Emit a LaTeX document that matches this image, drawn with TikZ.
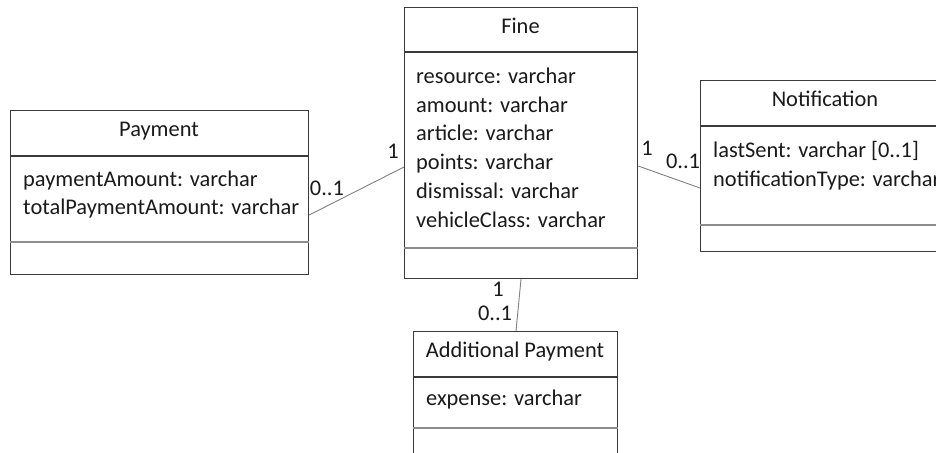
\documentclass[tikz,border=0pt]{standalone}
\usepackage{fontspec}
\setmainfont{Carlito}
\usetikzlibrary{calc}
\definecolor{boxline}{HTML}{3A3A3A}
\definecolor{sepline}{HTML}{8C8C8C}
\definecolor{connline}{HTML}{808080}
\definecolor{txt}{HTML}{1A1A1A}
\begin{document}
\begin{tikzpicture}[x=1pt,y=-1pt,
  classbox/.style={draw=boxline, line width=1.2pt, fill=white, anchor=north west, inner sep=0pt},
  headline/.style={draw=boxline, line width=1.2pt},
  sepl/.style={draw=sepline, line width=1.2pt},
  conn/.style={draw=connline, line width=0.9pt},
  title/.style={font=\fontsize{22.4}{28.7}\selectfont, text=txt, inner sep=0pt, text height=0.63em, text depth=0pt, anchor=center},
  attr/.style={font=\fontsize{22.4}{28.7}\selectfont, text=txt, inner sep=0pt, anchor=base west},
  mult/.style={font=\fontsize{22.4}{28.7}\selectfont, text=txt, inner sep=0pt, text height=0.63em, text depth=0pt, anchor=center}
]
\useasboundingbox (0,0) rectangle (936,452);
\clip (0,0) rectangle (936,452);
\fill[white] (0,0) rectangle (936,452);

% Payment
\node[classbox, minimum width=298pt, minimum height=164pt] (pay) at (10,110) {};
\draw[headline] ([yshift=-46pt]pay.north west) -- ([yshift=-46pt]pay.north east);
\draw[sepl] ([yshift=-132pt]pay.north west) -- ([yshift=-132pt]pay.north east);
\node[title] (payt) at (159,133) {Payment};
\node[attr] (paya1) at (23,186) {paymentAmount: varchar};
\node[attr] (paya2) at (23,214) {totalPaymentAmount: varchar};

% Fine
\node[classbox, minimum width=233pt, minimum height=271pt] (fine) at (404,7) {};
\draw[headline] ([yshift=-45pt]fine.north west) -- ([yshift=-45pt]fine.north east);
\draw[sepl] ([yshift=-241pt]fine.north west) -- ([yshift=-241pt]fine.north east);
\node[title] (finet) at (520.5,30) {Fine};
\node[attr] (finea1) at (416,83.5) {resource: varchar};
\node[attr] (finea2) at (416,112.2) {amount: varchar};
\node[attr] (finea3) at (416,140.9) {article: varchar};
\node[attr] (finea4) at (416,169.6) {points: varchar};
\node[attr] (finea5) at (416,198.3) {dismissal: varchar};
\node[attr] (finea6) at (416,227) {vehicleClass: varchar};

% Notification
\node[classbox, minimum width=250pt, minimum height=171pt] (noti) at (700,80) {};
\draw[headline] ([yshift=-46pt]noti.north west) -- ([yshift=-46pt]noti.north east);
\draw[sepl] ([yshift=-145pt]noti.north west) -- ([yshift=-145pt]noti.north east);
\node[title] (notit) at (825,103) {Notification};
\node[attr] (notia1) at (713,157.5) {lastSent: varchar [0..1]};
\node[attr] (notia2) at (713,186) {notificationType: varchar};

% Additional Payment
\node[classbox, minimum width=204pt, minimum height=140pt] (add) at (413,331) {};
\draw[headline] ([yshift=-46pt]add.north west) -- ([yshift=-46pt]add.north east);
\draw[sepl] ([yshift=-97pt]add.north west) -- ([yshift=-97pt]add.north east);
\node[title] (addt) at (515,354) {Additional Payment};
\node[attr] (adda1) at (426,405) {expense: varchar};

% connectors
\draw[conn] ([yshift=-105pt]pay.north east) -- ([yshift=-160pt]fine.north west);
\draw[conn] ([yshift=-159pt]fine.north east) -- ([yshift=-108pt]noti.north west);
\draw[conn] ([xshift=117pt]fine.south west) -- ([xshift=103pt]add.north west);

% multiplicities
\node[mult] (m1) at (327,192) {0..1};
\node[mult] (m2) at (393,155) {1};
\node[mult] (m3) at (647,152) {1};
\node[mult] (m4) at (683,165) {0..1};
\node[mult] (m5) at (498,293) {1};
\node[mult] (m6) at (495,317) {0..1};
\end{tikzpicture}
\end{document}
